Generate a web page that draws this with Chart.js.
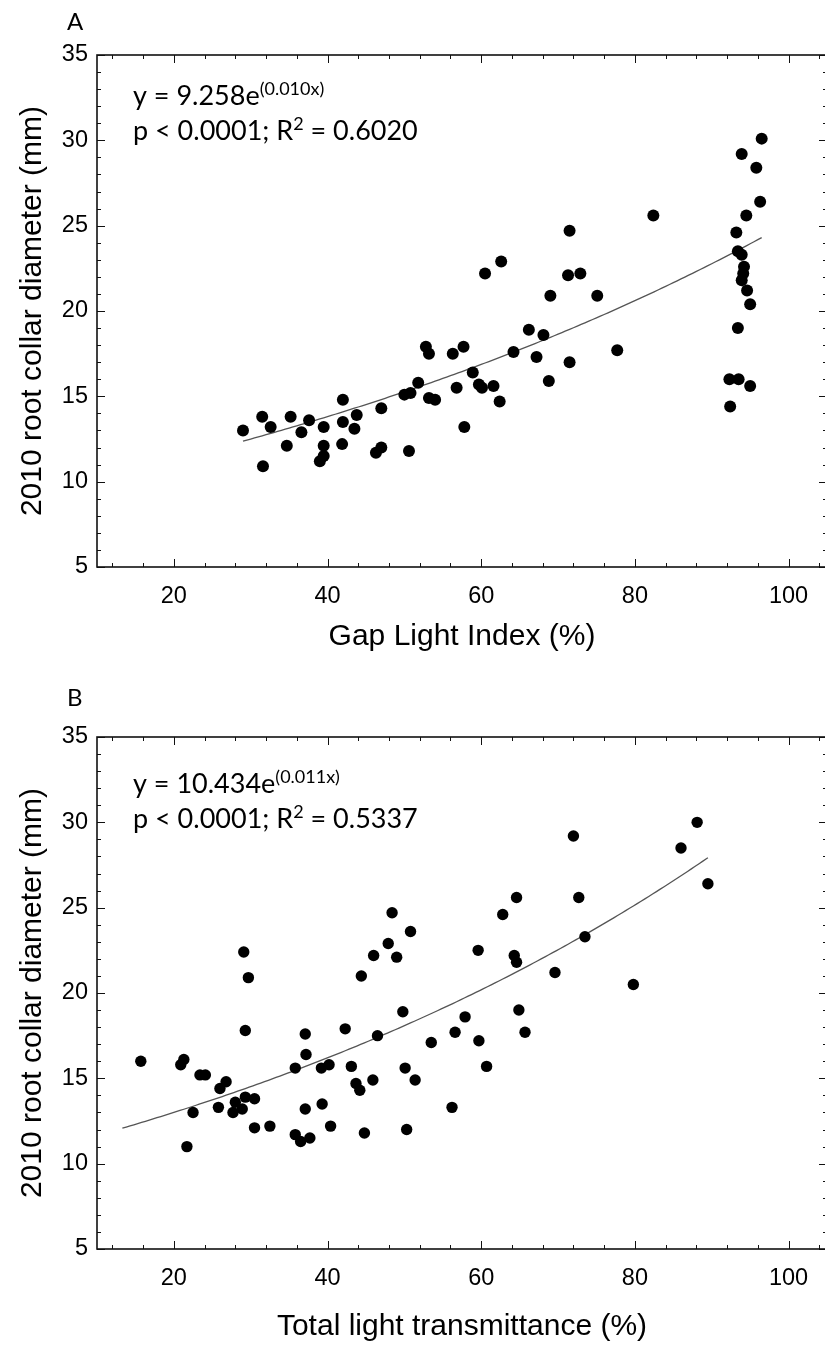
<!DOCTYPE html>
<html>
<head>
<meta charset="utf-8">
<script src="https://cdn.jsdelivr.net/npm/chart.js@4.4.1/dist/chart.umd.min.js"></script>
<style>
  html, body { margin: 0; padding: 0; background: #fff; }
  body { width: 825px; height: 1347px; overflow: hidden; position: relative; }
  canvas { position: absolute; left: 0; }
  #chartA { top: 0; }
  #chartB { top: 682px; }
</style>
</head>
<body>
<canvas id="chartA" width="840" height="680"></canvas>
<canvas id="chartB" width="840" height="680"></canvas>
<script>
// A: 2010 root collar diameter vs Gap Light Index
const gliX = [29.0, 31.5, 31.6, 32.6, 34.7, 35.2, 36.6, 37.6, 39.5, 39.5,
              39.5, 39.0, 42.0, 42.0, 41.9, 43.8, 43.5, 46.3, 47.0, 47.0,
              50.0, 50.8, 50.6, 51.8, 52.8, 53.2, 53.2, 54.0, 56.3, 56.8,
              57.7, 57.8, 58.9, 59.7, 60.1, 61.6, 62.4, 64.2, 66.2, 67.2,
              68.1, 68.8, 71.5, 77.7, 60.5, 62.6, 69.0, 71.5, 71.3, 72.9,
              75.1, 82.4, 92.3, 93.5, 92.4, 95.0, 93.4, 95.0, 96.5, 93.9,
              95.8, 96.3, 94.5, 93.2, 93.4, 93.9, 94.2, 94.1, 93.9, 94.6];
const gliY = [13.0, 13.8, 10.9, 13.2, 12.1, 13.8, 12.9, 13.6, 13.2, 12.1,
              11.5, 11.2, 14.8, 13.5, 12.2, 13.9, 13.1, 11.7, 12.0, 14.3,
              15.1, 15.2, 11.8, 15.8, 17.9, 17.5, 14.9, 14.8, 17.5, 15.5,
              17.9, 13.2, 16.4, 15.7, 15.5, 15.6, 14.7, 17.6, 18.9, 17.3,
              18.6, 15.9, 17.0, 17.7, 22.2, 22.9, 20.9, 24.7, 22.1, 22.2,
              20.9, 25.6, 16.0, 16.0, 14.4, 15.6, 19.0, 20.4, 30.1, 29.2,
              28.4, 26.4, 25.6, 24.6, 23.5, 23.3, 22.6, 22.2, 21.8, 21.2];

// B: 2010 root collar diameter vs total light transmittance
const tltX = [15.7, 20.9, 21.3, 21.7, 22.5, 23.4, 24.1, 25.8, 26.0, 26.8,
              27.7, 28.0, 28.9, 29.3, 30.5, 29.3, 30.5, 32.5, 35.8, 35.8,
              36.5, 37.7, 37.1, 37.2, 37.1, 39.2, 39.3, 40.2, 40.4, 42.3,
              43.1, 43.7, 44.2, 44.8, 45.9, 46.5, 49.8, 50.1, 51.4, 50.3,
              53.5, 56.6, 56.2, 57.9, 59.7, 60.7, 64.9, 65.7, 29.1, 29.7,
              44.4, 46.0, 47.9, 49.0, 48.4, 50.8, 72.0, 88.1, 86.0, 89.5,
              72.7, 64.6, 62.8, 59.6, 64.3, 64.6, 73.5, 69.6, 79.8];
const tltY = [16.0, 15.8, 16.1, 11.0, 13.0, 15.2, 15.2, 13.3, 14.4, 14.8,
              13.0, 13.6, 13.2, 13.9, 13.8, 17.8, 12.1, 12.2, 15.6, 11.7,
              11.3, 11.5, 13.2, 16.4, 17.6, 15.6, 13.5, 15.8, 12.2, 17.9,
              15.7, 14.7, 14.3, 11.8, 14.9, 17.5, 18.9, 15.6, 14.9, 12.0,
              17.1, 17.7, 13.3, 18.6, 17.2, 15.7, 19.0, 17.7, 22.4, 20.9,
              21.0, 22.2, 22.9, 22.1, 24.7, 23.6, 29.2, 30.0, 28.5, 26.4,
              25.6, 25.6, 24.6, 22.5, 22.2, 21.8, 23.3, 21.2, 20.5];

const xTicks = [20, 40, 60, 80, 100];
const yTicks = [5, 10, 15, 20, 25, 30, 35];

// exponential fits y = a * e^(b*x) and the x span each curve covers
const fitA = { a: 9.258, b: 0.010 };
const fitB = { a: 10.434, b: 0.011 };
const fitSpanA = [29, 96.5];
const fitSpanB = [13.3, 89.5];

const sansFont = "'Liberation Sans', Arial, sans-serif";
const noteFont = "Lato, 'Open Sans', sans-serif";

function curvePoints(fit, span) {
  const pts = [];
  for (let x = span[0]; x < span[1]; x += 0.5) pts.push({ x: x, y: fit.a * Math.exp(fit.b * x) });
  pts.push({ x: span[1], y: fit.a * Math.exp(fit.b * span[1]) });
  return pts;
}

// box round the plot with inward ticks on all four sides
const framePlugin = {
  id: 'frame',
  afterDatasetsDraw(chart) {
    const ctx = chart.ctx;
    const { left, right, top, bottom } = chart.chartArea;
    const xs = chart.scales.x, ys = chart.scales.y;
    ctx.save();
    ctx.strokeStyle = '#111';
    ctx.lineWidth = 1;
    ctx.beginPath();
    for (let v = Math.ceil(xs.min / 4) * 4; v <= xs.max; v += 4) {
      const px = Math.round(xs.getPixelForValue(v)) + 0.5;
      const len = v % 20 === 0 ? 8 : 4;
      ctx.moveTo(px, bottom); ctx.lineTo(px, bottom - len);
      ctx.moveTo(px, top); ctx.lineTo(px, top + len);
    }
    for (let v = Math.ceil(ys.min); v <= ys.max; v += 1) {
      const py = Math.round(ys.getPixelForValue(v)) + 0.5;
      const len = v % 5 === 0 ? 8 : 4;
      ctx.moveTo(left, py); ctx.lineTo(left + len, py);
      ctx.moveTo(right, py); ctx.lineTo(right - len, py);
    }
    ctx.stroke();
    ctx.lineWidth = 1.6;
    ctx.strokeRect(left, top, right - left, bottom - top);
    ctx.restore();
  }
};

// panel letter and fit equation, drawn as text runs with superscripts
const notesPlugin = {
  id: 'notes',
  afterDraw(chart, args, opts) {
    const ctx = chart.ctx;
    const { left, top } = chart.chartArea;
    ctx.save();
    ctx.fillStyle = '#000';
    ctx.textBaseline = 'alphabetic';
    ctx.font = '24px ' + noteFont;
    ctx.fillText(opts.letter, opts.letterX, opts.letterY);
    opts.lines.forEach((runs, i) => {
      let x = left + opts.textDx;
      const y = top + opts.textDy + i * opts.lineGap;
      runs.forEach(r => {
        const sup = r[1];
        ctx.font = (sup ? '18px ' : '27px ') + noteFont;
        ctx.fillText(r[0], x, sup ? y - 10 : y);
        x += ctx.measureText(r[0]).width;
      });
    });
    ctx.restore();
  }
};

function makePanel(id, xs, ys, fit, span, xTitle, notes, titlePad, dotR) {
  const dots = xs.map((x, i) => ({ x: x, y: ys[i] }));
  return new Chart(document.getElementById(id), {
    type: 'scatter',
    data: {
      datasets: [
        { data: dots, pointRadius: dotR, pointBackgroundColor: '#000',
          pointBorderWidth: 0, pointHoverRadius: dotR },
        { data: curvePoints(fit, span), showLine: true, pointRadius: 0, borderColor: '#555',
          borderWidth: 1.3, tension: 0 }
      ]
    },
    options: {
      responsive: false,
      animation: false,
      events: [],
      layout: { padding: { top: 55, right: 13, left: 0, bottom: 0 } },
      plugins: { legend: { display: false }, tooltip: { enabled: false }, notes: notes },
      scales: {
        x: {
          type: 'linear', min: 10, max: 105,
          afterBuildTicks: s => { s.ticks = xTicks.map(v => ({ value: v })); },
          afterFit: s => { s.height = 113; },
          grid: { display: false, drawTicks: false },
          border: { display: false },
          ticks: { color: '#000', font: { family: sansFont, size: 23.5 }, padding: 15, maxRotation: 0 },
          title: { display: true, text: xTitle, color: '#000',
                   font: { family: sansFont, size: 30 }, padding: { top: 0, bottom: titlePad } }
        },
        y: {
          type: 'linear', min: 5, max: 35,
          afterBuildTicks: s => { s.ticks = yTicks.map(v => ({ value: v })); },
          afterFit: s => { s.width = 97; },
          grid: { display: false, drawTicks: false },
          border: { display: false },
          ticks: { color: '#000', font: { family: sansFont, size: 23.5 }, padding: 9 },
          title: { display: true, text: '2010 root collar diameter (mm)', color: '#000',
                   font: { family: sansFont, size: 30 }, padding: { top: 15, bottom: 0 } }
        }
      }
    },
    plugins: [framePlugin, notesPlugin]
  });
}

makePanel('chartA', gliX, gliY, fitA, fitSpanA, 'Gap Light Index (%)', {
  letter: 'A', letterX: 67, letterY: 30, textDx: 36, textDy: 50, lineGap: 35,
  lines: [
    [['y = 9.258e', false], ['(0.010x)', true]],
    [['p < 0.0001; R', false], ['2', true], [' = 0.6020', false]]
  ]
}, 25, 6);

makePanel('chartB', tltX, tltY, fitB, fitSpanB, 'Total light transmittance (%)', {
  letter: 'B', letterX: 67, letterY: 24, textDx: 36, textDy: 56, lineGap: 35,
  lines: [
    [['y = 10.434e', false], ['(0.011x)', true]],
    [['p < 0.0001; R', false], ['2', true], [' = 0.5337', false]]
  ]
}, 17, 5.7);
</script>
</body>
</html>
